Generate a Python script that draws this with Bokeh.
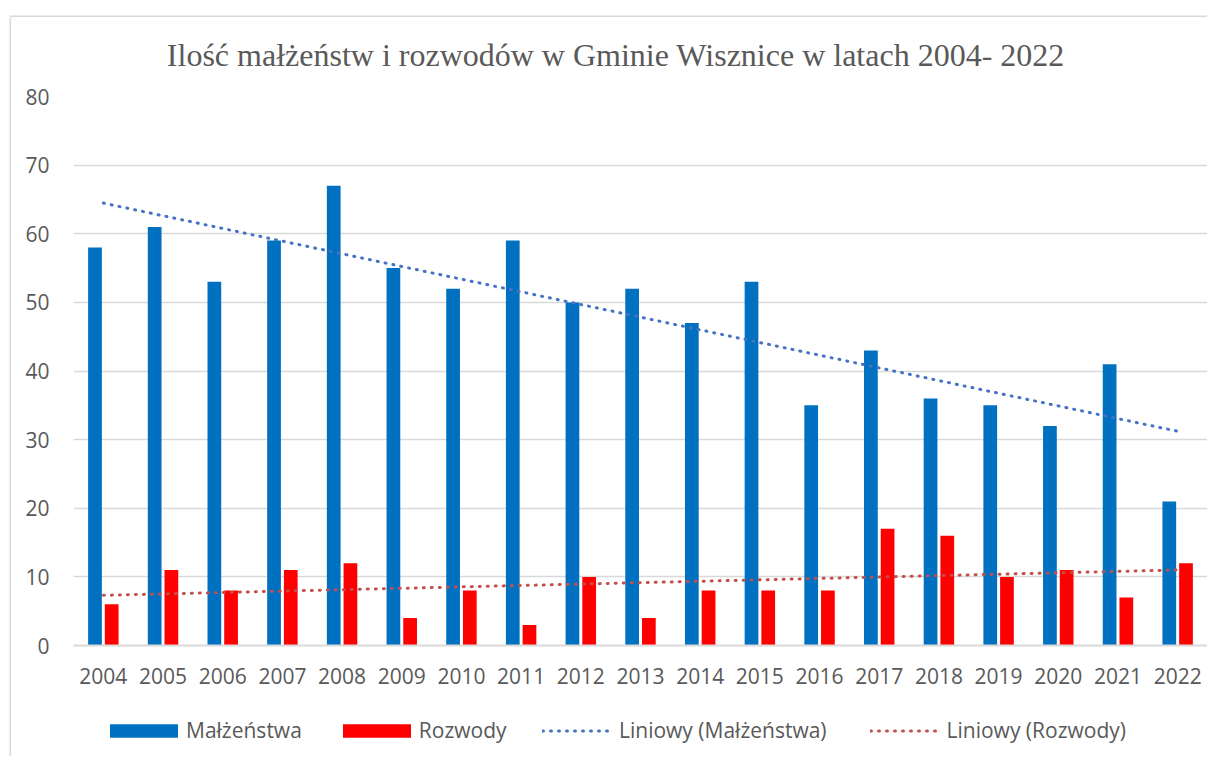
import numpy as np
from bokeh.plotting import figure
from bokeh.layouts import column, row
from bokeh.models import (Range1d, FixedTicker, ColumnDataSource, Legend, LegendItem,
                          BoxAnnotation, Label)
from bokeh.transform import dodge
from bokeh.embed import file_html
from bokeh.resources import INLINE

years = ["2004", "2005", "2006", "2007", "2008", "2009", "2010", "2011", "2012", "2013",
         "2014", "2015", "2016", "2017", "2018", "2019", "2020", "2021", "2022"]
malzenstwa = [58, 61, 53, 59, 67, 55, 52, 59, 50, 52, 47, 53, 35, 43, 36, 35, 32, 41, 21]
rozwody = [6, 11, 8, 11, 12, 4, 8, 3, 10, 4, 8, 8, 8, 17, 16, 10, 11, 7, 12]
y_ticks = [0, 10, 20, 30, 40, 50, 60, 70, 80]
title_text = "Ilość małżeństw i rozwodów w Gminie Wisznice w latach 2004- 2022"
series_names = ["Małżeństwa", "Rozwody", "Liniowy (Małżeństwa)", "Liniowy (Rozwody)"]

idx = list(range(len(years)))
src = ColumnDataSource(dict(x=idx, m=malzenstwa, r=rozwody))

# linear trend lines (Excel "Liniowy")
km, bm = np.polyfit(idx, malzenstwa, 1)
kr, br = np.polyfit(idx, rozwody, 1)
tx = [idx[0], idx[-1]]
trend_m = [km * t + bm for t in tx]
trend_r = [kr * t + br for t in tx]

FONT = "Open Sans"
GREY = "#595959"
EDGE = "#d9d9d9"
BLUE, RED, TBLUE, TRED = "#0070C0", "#FF0000", "#4472C4", "#C0504D"


def strip(w, h):
    f = figure(width=w, height=h, output_backend="svg", toolbar_location=None,
               x_axis_location=None, y_axis_location=None,
               x_range=Range1d(0, w), y_range=Range1d(0, h), min_border=0,
               background_fill_color="white", border_fill_color="white")
    f.grid.visible = False
    f.outline_line_color = None
    return f


# chart-area border (top and left edges)
top = strip(1207, 17)
top.add_layout(BoxAnnotation(left=9, right=1207, bottom=0, top=2, fill_color=EDGE,
                             fill_alpha=1, line_color=None))
left = strip(11, 739)
left.add_layout(BoxAnnotation(left=9, right=11, bottom=0, top=739, fill_color=EDGE,
                              fill_alpha=1, line_color=None))

# title strip
t = strip(1196, 67)
t.add_layout(Label(x=572, y=29.5, text=title_text, text_align="center", text_baseline="middle",
                   text_font="Liberation Serif", text_font_size="32px", text_color=GREY))

p = figure(width=1196, height=616, output_backend="svg", toolbar_location=None,
           x_range=Range1d(-0.5, len(years) - 0.5), y_range=Range1d(0, 80),
           min_border_left=62, min_border_right=0, min_border_top=12, min_border_bottom=55,
           background_fill_color="white", border_fill_color="white")
p.outline_line_color = None

p.vbar(x=dodge("x", -0.14, range=p.x_range), top="m", width=0.23, source=src,
       fill_color=BLUE, line_color=None)
p.vbar(x=dodge("x", 0.14, range=p.x_range), top="r", width=0.23, source=src,
       fill_color=RED, line_color=None)
p.line(tx, trend_m, line_color=TBLUE, line_width=3, line_dash="1 7", line_cap="round")
p.line(tx, trend_r, line_color=TRED, line_width=3, line_dash="1 7", line_cap="round")

p.xaxis.ticker = FixedTicker(ticks=idx)
p.xaxis.major_label_overrides = {i: y for i, y in enumerate(years)}
p.yaxis.ticker = FixedTicker(ticks=y_ticks)
for ax in (p.xaxis, p.yaxis):
    ax.major_tick_line_color = None
    ax.minor_tick_line_color = None
    ax.major_label_text_font = FONT
    ax.major_label_text_font_size = "21px"
    ax.major_label_text_color = GREY
p.xaxis.axis_line_color = EDGE
p.xaxis.axis_line_width = 2
p.yaxis.axis_line_color = None
p.xaxis.major_label_standoff = 16
p.yaxis.major_label_standoff = 18
p.xgrid.grid_line_color = None
p.ygrid.grid_line_color = EDGE
p.ygrid.grid_line_width = 1.5

# legend strip (separate figure so the legend is not clipped)
q = strip(1196, 56)
proxy = ColumnDataSource(dict(x=[-100, -100], top=[-100, -100]))  # off-canvas legend proxies
g1 = q.vbar(x="x", top="top", width=1, source=proxy, fill_color=BLUE, line_color=None)
g2 = q.vbar(x="x", top="top", width=1, source=proxy, fill_color=RED, line_color=None)
g3 = q.line(x="x", y="top", source=proxy, line_color=TBLUE, line_width=3, line_dash="1 7",
            line_cap="round")
g4 = q.line(x="x", y="top", source=proxy, line_color=TRED, line_width=3, line_dash="1 7",
            line_cap="round")

common = dict(orientation="horizontal", padding=0, margin=0,
              border_line_color=None, background_fill_alpha=0, label_text_font=FONT,
              label_text_font_size="21px", label_text_color=GREY)
leg_bars = Legend(items=[LegendItem(label=series_names[0], renderers=[g1]),
                         LegendItem(label=series_names[1], renderers=[g2])],
                  location=(28, 12), glyph_width=85, glyph_height=17, label_standoff=0,
                  spacing=32, **common)
leg_lines = Legend(items=[LegendItem(label=series_names[2], renderers=[g3]),
                          LegendItem(label=series_names[3], renderers=[g4])],
                   location=(469, 12), glyph_width=71, glyph_height=17, label_standoff=6,
                   spacing=43, **common)
q.add_layout(leg_bars, "center")
q.add_layout(leg_lines, "center")

layout = column(top, row(left, column(t, p, q, spacing=0), spacing=0), spacing=0)
open("out.html", "w").write(file_html(layout, INLINE))
